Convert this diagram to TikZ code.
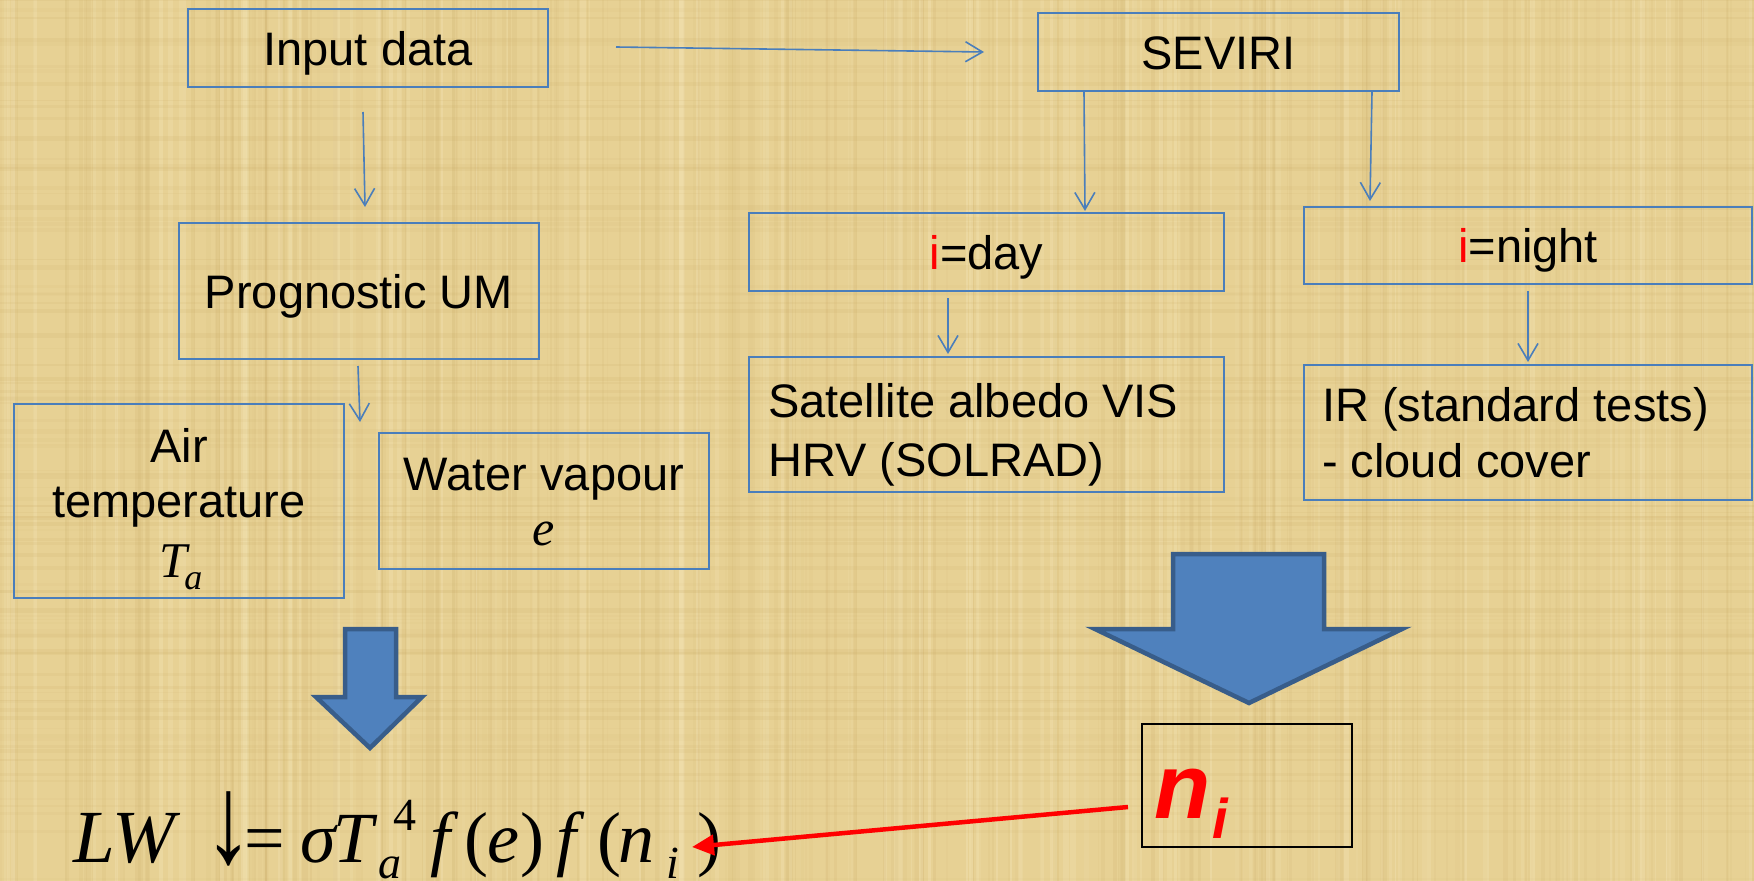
\documentclass[tikz,border=0pt]{standalone}
\usepackage{fontspec}
\usepackage{graphicx}
\setmainfont{Liberation Sans}
\newfontfamily\tnr{Liberation Serif}
\usetikzlibrary{arrows.meta,calc}
\definecolor{bg}{RGB}{231,209,148}
\definecolor{bgdark}{RGB}{200,168,98}
\definecolor{bglight}{RGB}{246,232,188}
\definecolor{boxblue}{RGB}{74,126,187}
\definecolor{arrfill}{RGB}{79,129,189}
\definecolor{arrline}{RGB}{56,93,138}
\newcommand\gl[2]{\rlap{\hspace{#1pt}#2}}
\begin{document}
\begin{tikzpicture}[x=1pt,y=-1pt,
  box/.style={draw=boxblue,line width=2pt,inner sep=0pt},
  lbl/.style={font=\fontsize{47}{56}\selectfont,inner sep=0pt,text height=34pt,text depth=0pt},
  txt/.style={font=\fontsize{47}{56}\selectfont,inner sep=0pt},
  conn/.style={draw=boxblue,line width=1.6pt,-{Straight Barb[length=17pt,width=20pt]}},
  blockarrow/.style={fill=arrfill,draw=arrline,line width=4.5pt,line join=miter},
  redarrow/.style={draw=red,line width=4.5pt,-{Triangle[length=22pt,width=20pt]}},
]
\fill[bg] (0,0) rectangle (1754,881);
\useasboundingbox (0,0) rectangle (1754,881);
% papyrus-like texture
\pgfmathsetseed{7}
\foreach \i in {1,...,220} {
  \pgfmathsetmacro\xx{rnd*1754}
  \pgfmathsetmacro\op{0.04+rnd*0.12}
  \pgfmathsetmacro\lw{1+rnd*4}
  \draw[bgdark,opacity=\op,line width=\lw pt] (\xx,0) -- (\xx,881);
}
\foreach \i in {1,...,120} {
  \pgfmathsetmacro\xx{rnd*1754}
  \pgfmathsetmacro\op{0.1+rnd*0.25}
  \pgfmathsetmacro\lw{1+rnd*5}
  \draw[bglight,opacity=\op,line width=\lw pt] (\xx,0) -- (\xx,881);
}
\foreach \i in {1,...,90} {
  \pgfmathsetmacro\yy{rnd*881}
  \pgfmathsetmacro\op{0.04+rnd*0.1}
  \pgfmathsetmacro\lw{1+rnd*4}
  \draw[bgdark,opacity=\op,line width=\lw pt] (0,\yy) -- (1754,\yy);
}

% boxes
\node[box,lbl,minimum width=360pt,minimum height=78pt] (input) at (368,48) {Input data};
\node[box,lbl,minimum width=361pt,minimum height=78pt] (seviri) at (1218.5,52) {SEVIRI};
\node[box,lbl,minimum width=360pt,minimum height=136pt] (prog) at (359,291) {Prognostic UM};
\node[box,lbl,minimum width=475pt,minimum height=78pt] (day) at (986.5,252) {\textcolor{red}{i}=day};
\node[box,lbl,minimum width=448pt,minimum height=77pt] (night) at (1528,245.5) {\textcolor{red}{i}=night};
\node[box,minimum width=330pt,minimum height=194pt] (air) at (179,501) {};
\node[box,minimum width=330pt,minimum height=136pt] (water) at (544,501) {};
\node[box,minimum width=475pt,minimum height=135pt] (sat) at (986.5,424.5) {};
\node[box,minimum width=448pt,minimum height=135pt] (ir) at (1528,432.5) {};
\node[draw=black,line width=2pt,inner sep=0pt,minimum width=210pt,minimum height=123pt] (ni) at (1247,785.5) {};

% texts inside multi-line boxes
\node[txt,anchor=base] (tair1) at (179,462) {Air};
\node[txt,anchor=base] (tair2) at (179,517) {temperature};
\node[txt,anchor=base] (tair3) at (181,577) {\tnr\itshape\fontsize{50}{50}\selectfont T\hspace{-3pt}\raisebox{-12pt}{\fontsize{36}{36}\selectfont a}};
\node[txt,anchor=base] (twat1) at (544,490) {Water vapour};
\node[txt,anchor=base] (twat2) at (544,545) {\tnr\itshape\fontsize{50}{50}\selectfont e};
\node[txt,anchor=base west] (tsat1) at (768,417) {Satellite albedo VIS};
\node[txt,anchor=base west] (tsat2) at (768,476) {HRV (SOLRAD)};
\node[txt,anchor=base west] (tir1) at (1322,421) {IR (standard tests)};
\node[txt,anchor=base west] (tir2) at (1322,477) {- cloud cover};
\node[inner sep=0pt,anchor=base west,text=red] (tni) at (1154,818)
  {\fontsize{92}{92}\selectfont\bfseries\itshape n\hspace{2pt}\raisebox{-20pt}{\fontsize{56}{56}\selectfont i}};

% formula, glyphs placed at measured positions
\node[inner sep=0pt,anchor=base west] (lw) at (0,862)
  {\tnr\fontsize{72}{72}\selectfont
   \gl{73}{\itshape\fontsize{75}{75}\selectfont LW}%
   \gl{204}{\scalebox{1.35}[1.75]{↓}}%
   \gl{244}{=}%
   \gl{300}{\itshape σ}%
   \gl{333}{\itshape T}%
   \gl{378}{\raisebox{-16pt}{\itshape\fontsize{46}{46}\selectfont a}}%
   \gl{393}{\raisebox{32pt}{\fontsize{46}{46}\selectfont 4}}%
   \gl{430}{\itshape f}%
   \gl{464}{(}%
   \gl{487}{\itshape e}%
   \gl{520}{)}%
   \gl{556}{\itshape f}%
   \gl{597}{(}%
   \gl{618}{\itshape n}%
   \gl{666}{\raisebox{-16pt}{\itshape\fontsize{46}{46}\selectfont i}}%
   \gl{697}{)}\hspace{720pt}};

% thin connectors
\draw[conn] ($(input.east)+(67,-1)$) -- ($(seviri.west)+(-53,0)$);
\draw[conn] ($(input.south)+(-5,24)$) -- ($(prog.north)+(6,-15)$);
\draw[conn] ($(prog.south)+(-1,6)$) -- ($(air.north east)+(15,19)$);
\draw[conn] ($(seviri.south west)+(47,0)$) -- ($(day.north)+(98.5,-1)$);
\draw[conn] ($(seviri.south east)+(-28,0)$) -- ($(night.north west)+(67,-5)$);
\draw[conn] ($(day.south)+(-38.5,6)$) -- ($(sat.north)+(-38.5,-2)$);
\draw[conn] ($(night.south)+(0,6)$) -- ($(ir.north)+(0,-2)$);

% block arrows
\draw[blockarrow] (345,629) -- (396,629) -- (396,697) -- (422,697) -- (370,748) -- (316,697) -- (345,697) -- cycle;
\draw[blockarrow] (1173,554) -- (1324,554) -- (1324,629) -- (1402,629) -- (1249,703) -- (1095,629) -- (1173,629) -- cycle;

% red arrow
\coordinate (lwend) at (692,847);
\draw[redarrow] ($(ni.west)+(-13,21.5)$) -- (lwend);
\end{tikzpicture}
\end{document}
